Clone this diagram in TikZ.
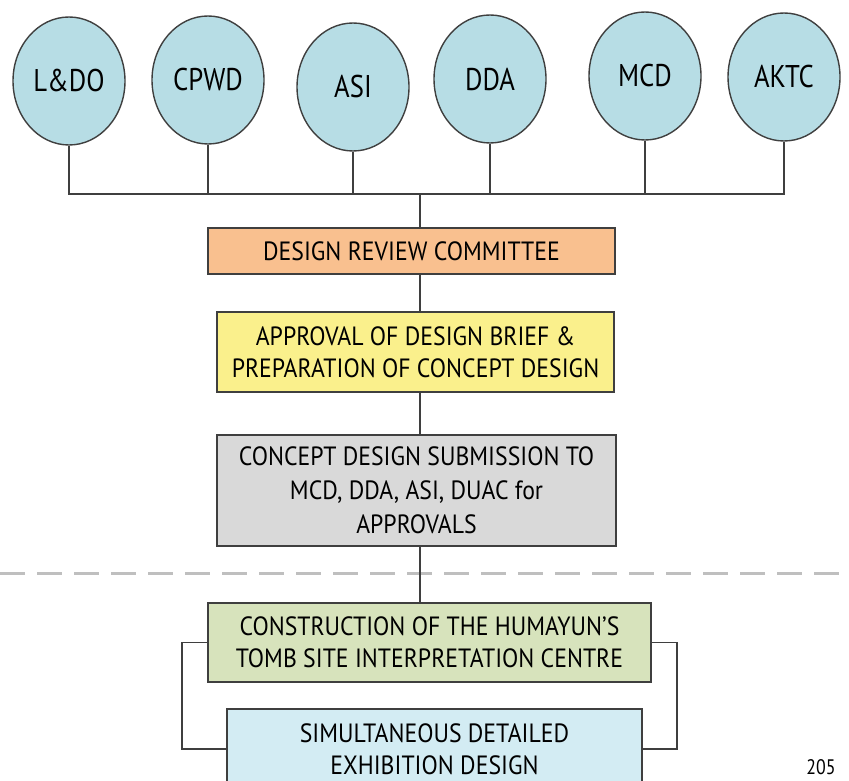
\documentclass[tikz,border=0pt]{standalone}
\usepackage{fontspec}
\setmainfont[FakeStretch=0.85]{PT Sans}
\newfontfamily\boxfont[FakeStretch=0.9]{PT Sans}
\usetikzlibrary{shapes.geometric}
\definecolor{orgblue}{HTML}{B7DDE5}
\definecolor{drcorange}{HTML}{F9C08F}
\definecolor{apryellow}{HTML}{FAF08C}
\definecolor{cdsgray}{HTML}{D9D9D9}
\definecolor{congreen}{HTML}{D7E3BC}
\definecolor{simblue}{HTML}{D3ECF3}
\definecolor{linegray}{HTML}{3F3F3F}
\begin{document}
\begin{tikzpicture}[x=0.5pt,y=-0.5pt,
  org/.style={ellipse,draw=linegray,line width=0.7pt,fill=orgblue,inner sep=0pt,
    minimum width=56pt,minimum height=64pt,font=\fontsize{15.7}{18}\selectfont},
  stage/.style={rectangle,draw=linegray,line width=0.8pt,align=center,inner sep=0pt,
    font=\boxfont\fontsize{13.2}{16}\selectfont},
  wide/.style={font=\boxfont\fontsize{13.2}{17}\selectfont},
  link/.style={draw=linegray,line width=0.6pt}]
\useasboundingbox (0,0) rectangle (849,780);

\node[org](lado) at (69,81){L\&DO};
\node[org](cpwd) at (208,80){CPWD};
\node[org](asi) at (353,87){ASI};
\node[org](dda) at (490,79){DDA};
\node[org](mcd) at (645,76){MCD};
\node[org](aktc) at (784,77){AKTC};

\coordinate (bus) at (420,194);

\node[stage,fill=drcorange,minimum width=203.5pt,minimum height=23pt](drc) at (411.5,251){DESIGN REVIEW COMMITTEE};
\node[stage,fill=apryellow,minimum width=198.5pt,minimum height=40pt](apr) at (415.5,352){APPROVAL OF DESIGN BRIEF \&\\PREPARATION OF CONCEPT DESIGN};
\node[stage,wide,fill=cdsgray,minimum width=199.5pt,minimum height=55.5pt](cds) at (416.5,490.5){CONCEPT DESIGN SUBMISSION TO\\MCD, DDA, ASI, DUAC for\\APPROVALS};
\node[stage,fill=congreen,minimum width=221.5pt,minimum height=39.5pt](con) at (429.5,642.5){CONSTRUCTION OF THE HUMAYUN’S\\TOMB SITE INTERPRETATION CENTRE};
\node[stage,fill=simblue,minimum width=207.5pt,minimum height=40pt](sim) at (434.5,749){SIMULTANEOUS DETAILED\\EXHIBITION DESIGN};

\node[anchor=north,inner sep=0pt,font=\fontsize{10.5}{12}\selectfont](page) at (821,759){205};

% agencies to the committee
\draw[link](lado.south) -- (lado.south |- bus) -- (aktc.south |- bus) -- (aktc.south);
\foreach \n in {cpwd,asi,dda,mcd}
  \draw[link](\n.south) -- (\n.south |- bus);
\draw[link](bus) -- (bus |- drc.north);
\draw[link](bus |- drc.south) -- (bus |- apr.north);
\draw[link](bus |- apr.south) -- (bus |- cds.north);

% stage divider
\coordinate (dl) at (0,573);
\coordinate (dr) at (849,573);
\draw[draw=black!25,line width=1.5pt,dash pattern=on 12.5pt off 6pt](dl) -- (dr);
\draw[link](bus |- cds.south) -- (bus |- con.north);

% side brackets
\coordinate (lbr) at (182,0);
\coordinate (rbr) at (677,0);
\draw[link](con.west) -| (lbr |- sim.west) -- (sim.west);
\draw[link](con.east) -| (rbr |- sim.east) -- (sim.east);
\end{tikzpicture}
\end{document}
